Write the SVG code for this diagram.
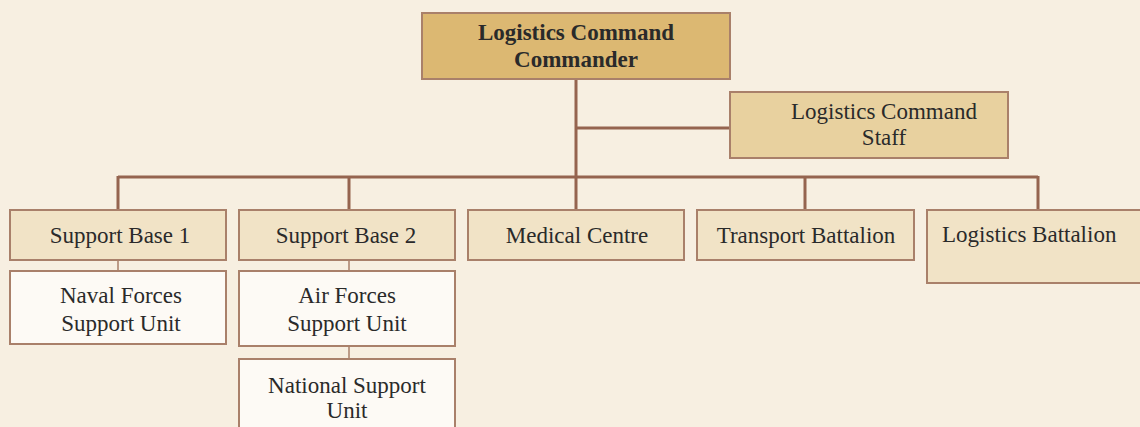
<svg xmlns="http://www.w3.org/2000/svg" width="1140" height="427" viewBox="0 0 1140 427">
<style>
.box{stroke:#a9806a;stroke-width:2}
.top{fill:#dcb872}
.staff{fill:#e8d19f}
.lvl{fill:#f1e3c6}
.unit{fill:#fdfaf5}
.t{font-family:"Liberation Serif","Times New Roman",serif;font-size:23px;fill:#2a2a2a}
.b{font-weight:bold}
.c{text-anchor:middle}
.main{stroke:#95644f;stroke-width:3;fill:none}
.sub{stroke:#a9806a;stroke-width:1.5;fill:none}
</style>
<rect x="0" y="0" width="1140" height="427" fill="#f7efe1"/>
<g id="connectors">
<path class="main" d="M576 79V210M576 128H730M118 177H1038M118 176V210M349 176V210M805 176V210M1038 176V210"/>
<path class="sub" d="M118 260V271M349 260V271M349 346V359"/>
</g>
<g id="commander">
<rect class="box top" x="422" y="13" width="308" height="66"/>
<text class="t b c" x="576" y="40">Logistics Command</text>
<text class="t b c" x="576" y="67">Commander</text>
</g>
<g id="staff">
<rect class="box staff" x="730" y="92" width="278" height="66"/>
<text class="t c" x="884" y="119">Logistics Command</text>
<text class="t c" x="884" y="145">Staff</text>
</g>
<g id="support-base-1">
<rect class="box lvl" x="10" y="210" width="216" height="50"/>
<text class="t c" x="120" y="243">Support Base 1</text>
</g>
<g id="support-base-2">
<rect class="box lvl" x="239" y="210" width="216" height="50"/>
<text class="t c" x="346" y="243">Support Base 2</text>
</g>
<g id="medical-centre">
<rect class="box lvl" x="468" y="210" width="216" height="50"/>
<text class="t c" x="577" y="243">Medical Centre</text>
</g>
<g id="transport-battalion">
<rect class="box lvl" x="697" y="210" width="217" height="50"/>
<text class="t c" x="806" y="243">Transport Battalion</text>
</g>
<g id="logistics-battalion">
<rect class="box lvl" x="927" y="210" width="220" height="73"/>
<text class="t" x="942" y="242">Logistics Battalion</text>
</g>
<g id="naval-forces">
<rect class="box unit" x="10" y="271" width="216" height="73"/>
<text class="t c" x="121" y="303">Naval Forces</text>
<text class="t c" x="121" y="331">Support Unit</text>
</g>
<g id="air-forces">
<rect class="box unit" x="239" y="271" width="216" height="75"/>
<text class="t c" x="347" y="303">Air Forces</text>
<text class="t c" x="347" y="331">Support Unit</text>
</g>
<g id="national-support">
<rect class="box unit" x="239" y="359" width="216" height="80"/>
<text class="t c" x="347" y="393">National Support</text>
<text class="t c" x="347" y="418">Unit</text>
</g>
</svg>
